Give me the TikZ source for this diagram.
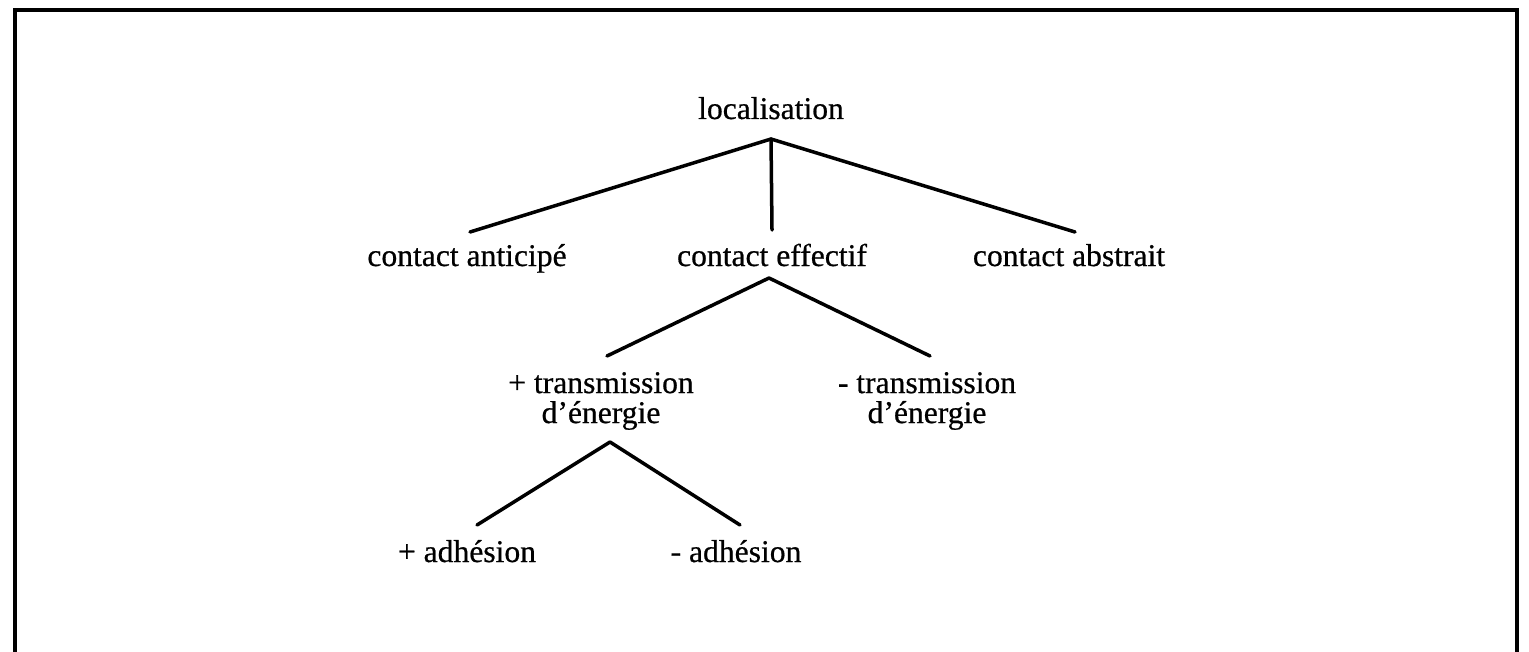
\documentclass[tikz,border=0pt]{standalone}
\usepackage{fontspec}
\setmainfont{Liberation Serif}[FakeBold=0.6]
\begin{document}
\begin{tikzpicture}[x=0.5pt,y=-0.5pt,
  lbl/.style={font=\fontsize{15.8}{15}\selectfont, inner sep=0pt, anchor=base},
  lbl2/.style={font=\fontsize{15.8}{15}\selectfont, inner sep=0pt, anchor=center, align=center},
  edge/.style={line width=1.75pt, line cap=round, line join=round},
  frame/.style={line width=1.6pt}]
\useasboundingbox (0,0) rectangle (1529,652);
\draw[frame] (15,652) -- (15,10) -- (1517,10) -- (1517,652);

% nodes
\node[lbl] (loc) at (771,119) {localisation};
\node[lbl] (ca) at (467,266) {contact anticipé};
\node[lbl] (ce) at (772,266) {contact effectif};
\node[lbl] (cab) at (1069,266) {contact abstrait};
\node[lbl2] (pt) at (601,401) {+ transmission\\d’énergie};
\node[lbl2] (mt) at (927,401) {- transmission\\d’énergie};
\node[lbl] (pa) at (467,562) {+ adhésion};
\node[lbl] (ma) at (736,562) {- adhésion};

% junction and end points
\coordinate (j0) at (771,139);
\coordinate (ca-t) at (470,232);
\coordinate (ce-t) at (772,230);
\coordinate (cab-t) at (1075,232);
\coordinate (j1) at (769,278);
\coordinate (pt-t) at (607,356);
\coordinate (mt-t) at (930,356);
\coordinate (j2) at (610,442);
\coordinate (pa-t) at (477,525);
\coordinate (ma-t) at (740,525);

% connectors
\draw[edge] (j0) -- (ca-t);
\draw[edge] (j0) -- (ce-t);
\draw[edge] (j0) -- (cab-t);
\draw[edge] (j1) -- (pt-t);
\draw[edge] (j1) -- (mt-t);
\draw[edge] (j2) -- (pa-t);
\draw[edge] (j2) -- (ma-t);
\end{tikzpicture}
\end{document}
